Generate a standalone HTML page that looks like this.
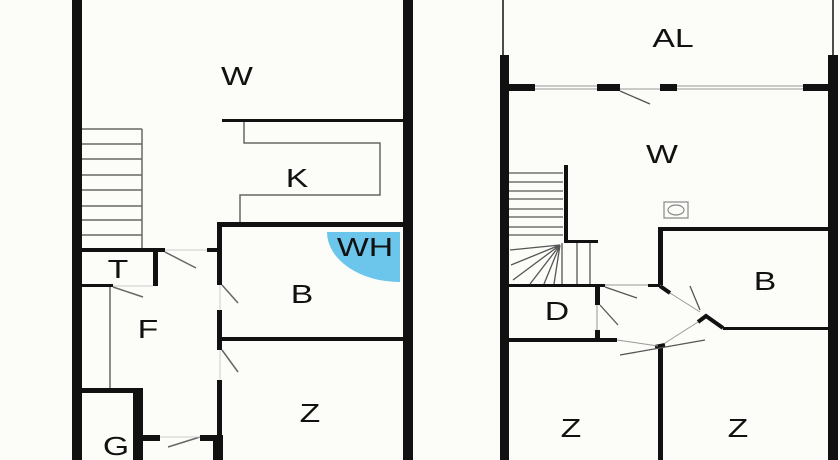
<!DOCTYPE html>
<html><head><style>
html,body{margin:0;padding:0;background:#fcfcf9;}
svg{display:block}
text{font-family:"Liberation Sans",sans-serif;font-size:26px;fill:#111;text-anchor:middle;transform-box:fill-box;transform-origin:center;transform:scaleX(1.3);}
</style></head><body>
<svg width="840" height="460" viewBox="0 0 840 460" xmlns="http://www.w3.org/2000/svg">
<rect width="840" height="460" fill="#fcfcf9"/>
<!-- LEFT PLAN -->
<path d="M400,232 L400,282 A73,50 0 0 1 327,232 Z" fill="#6cc6ec"/>
<g fill="#111">
<rect x="72" y="0" width="10" height="460"/>
<rect x="403" y="0" width="10" height="460"/>
<rect x="222" y="119" width="181" height="3"/>
<rect x="82" y="248" width="83" height="4"/>
<rect x="207" y="248" width="13" height="4"/>
<rect x="217" y="222" width="196" height="5"/>
<rect x="217" y="222" width="5" height="63"/>
<rect x="217" y="310" width="5" height="40"/>
<rect x="217" y="380" width="5" height="80"/>
<rect x="222" y="337" width="181" height="4"/>
<rect x="153" y="252" width="5" height="34"/>
<rect x="82" y="284" width="31" height="3"/>
<rect x="82" y="388" width="61" height="5"/>
<rect x="133" y="388" width="10" height="72"/>
<rect x="143" y="435" width="17" height="6"/>
<rect x="200" y="435" width="23" height="6"/>
<rect x="213" y="435" width="10" height="25"/>
</g>
<g stroke="#666" stroke-width="1.5" fill="none">
<path d="M244,122 V143 H380 V195 H240 V222"/>
<path d="M142,129 V248"/>
<path d="M82,129 H142 M82,144 H142 M82,159 H142 M82,175 H142 M82,190 H142 M82,206 H142 M82,220 H142 M82,235 H142"/>
<path d="M110,287 V388"/>
<path d="M165,252 L196,268 M113,287 L143,297 M222,285 L238,303 M222,350 L238,372 M168,447 L200,437"/>
</g>
<g stroke="#ccc" stroke-width="1" fill="none">
<path d="M165,250 H207 M113,286 H153 M220,285 V310 M220,350 V380 M160,437 H200"/>
</g>
<text x="237" y="85">W</text>
<text x="297" y="187">K</text>
<text x="365" y="256">WH</text>
<text x="302" y="303">B</text>
<text x="148" y="338">F</text>
<text x="118" y="278">T</text>
<text x="310" y="422">Z</text>
<text x="116" y="455">G</text>

<!-- RIGHT PLAN -->
<g stroke="#111" stroke-width="1.5"><path d="M503,0 V55 M833,0 V55"/></g>
<g fill="#111">
<rect x="500" y="55" width="9" height="405"/>
<rect x="828" y="55" width="10" height="405"/>
<rect x="509" y="84" width="26" height="7"/>
<rect x="597" y="84" width="23" height="7"/>
<rect x="660" y="84" width="17" height="7"/>
<rect x="803" y="84" width="25" height="7"/>
<rect x="564" y="165" width="4" height="78"/>
<rect x="564" y="240" width="34" height="3"/>
<rect x="658" y="227" width="170" height="4"/>
<rect x="658" y="227" width="5" height="58"/>
<rect x="509" y="284" width="96" height="3"/>
<rect x="648" y="284" width="12" height="3"/>
<rect x="595" y="287" width="5" height="18"/>
<rect x="595" y="330" width="5" height="12"/>
<rect x="509" y="338" width="108" height="4"/>
<rect x="658" y="345" width="5" height="115"/>
<rect x="723" y="327" width="105" height="3"/>
</g>
<g stroke="#111" stroke-width="4" fill="none">
<path d="M660,286 L670,293"/>
<path d="M723,328 L706,316 L698,322"/>
<path d="M655,347 L665,345"/>
</g>
<g stroke="#999" stroke-width="1" fill="none">
<path d="M535,86 H597 M535,89 H597 M677,86 H803 M677,89 H803"/>
<path d="M620,89 H660"/>
<path d="M605,285 H648 M597,305 V330 M617,340 L658,346 M670,293 L700,312 M698,322 L665,343"/>
</g>
<g stroke="#555" stroke-width="1.3" fill="none">
<path d="M620,91 L650,104"/>
<path d="M509,173 H563 M509,182 H563 M509,191 H563 M509,199 H563 M509,209 H563 M509,217 H563 M509,227 H563 M509,235 H563"/>
<path d="M562,243 V284 M577,243 V284 M590,243 V284"/>
<path d="M560,245 L511,265 M560,245 L513,280 M560,245 L530,284 M560,245 L544,284 M560,245 L554,284 M560,245 L510,250"/>
<path d="M605,287 L637,298 M600,305 L618,325 M690,286 L700,310 M620,355 L705,340"/>
</g>
<rect x="664" y="202" width="24" height="16" fill="none" stroke="#888" stroke-width="1.2"/>
<ellipse cx="676" cy="210" rx="8" ry="5" fill="none" stroke="#888" stroke-width="1.2"/>
<text x="673" y="47">AL</text>
<text x="662" y="163">W</text>
<text x="765" y="290">B</text>
<text x="557" y="320">D</text>
<text x="571" y="437">Z</text>
<text x="738" y="437">Z</text>
</svg>
</body></html>
